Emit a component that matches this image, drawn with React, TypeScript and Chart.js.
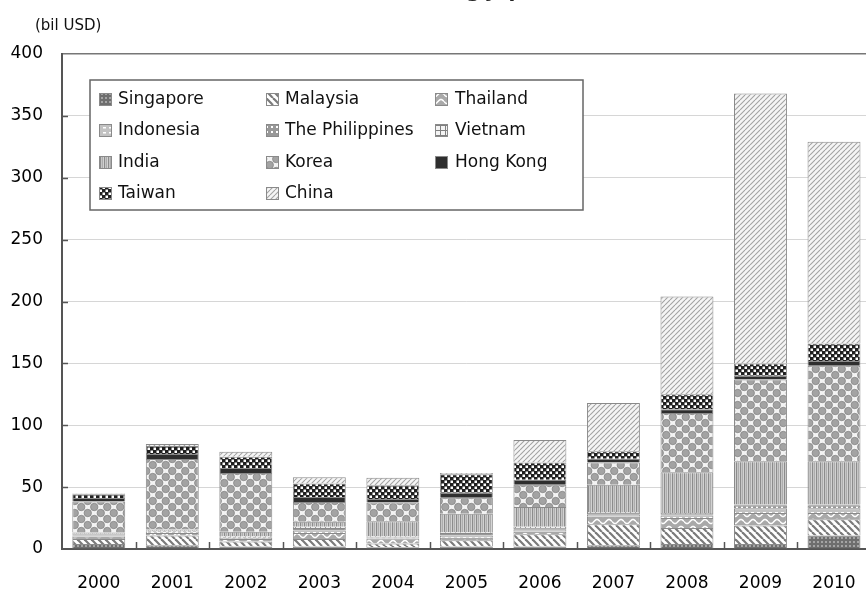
import React, { useEffect, useRef } from "react";
import { Chart, registerables } from "chart.js";

Chart.register(...registerables);

const years = ["2000", "2001", "2002", "2003", "2004", "2005", "2006", "2007", "2008", "2009", "2010"];
const singapore = [4, 3, 2, 2, 1.5, 2, 2, 3, 4, 4, 11];
const malaysia = [4, 8, 4, 6, 3, 5, 10, 17, 13, 15, 13];
const thailand = [2, 2, 2, 5, 4, 2, 2, 6, 8, 10, 5];
const indonesia = [1, 1, 1, 2, 1, 2, 2, 2, 2, 4, 4];
const philippines = [1, 0.5, 1, 2, 0.5, 2, 1, 1, 1, 2, 2];
const vietnam = [0.3, 0.3, 0.5, 1, 0.5, 0.5, 1, 1, 1, 1, 1];
const india = [1, 1, 3.5, 4, 12, 15, 16, 22, 33, 35, 35];
const korea = [25, 57, 47.5, 16, 15, 13, 18, 18, 48, 66, 77];
const hongKong = [3, 4, 4, 4, 3, 4, 4, 3, 3, 3, 4];
const taiwan = [3, 6.5, 9, 11, 11, 15, 14, 6, 12, 10, 14];
const china = [0.5, 1.5, 4, 5, 6, 1, 18, 39, 79, 218, 163];

const seriesNames = ["Singapore", "Malaysia", "Thailand", "Indonesia", "The Philippines", "Vietnam", "India", "Korea", "Hong Kong", "Taiwan", "China"];
const seriesValues = [singapore, malaysia, thailand, indonesia, philippines, vietnam, india, korea, hongKong, taiwan, china];
const yMin = 0;
const yMax = 400;
const yStep = 50;
const unitLabel = "(bil USD)";
const titleText = "(excluding Japan)";

const FONT = "DejaVu Sans";

function tile(w: number, h: number, draw: (c: CanvasRenderingContext2D) => void): CanvasPattern | string {
  const cv = document.createElement("canvas");
  cv.width = w;
  cv.height = h;
  const c = cv.getContext("2d");
  if (!c) return "#999";
  draw(c);
  return c.createPattern(cv, "repeat") || "#999";
}

function makePatterns(): (CanvasPattern | string)[] {
  const sing = tile(4, 4, (c) => {
    c.fillStyle = "#6e6e6e"; c.fillRect(0, 0, 4, 4);
    c.fillStyle = "#a4a4a4"; c.fillRect(1, 1, 2, 2);
  });
  const mala = tile(7, 7, (c) => {
    c.fillStyle = "#ffffff"; c.fillRect(0, 0, 7, 7);
    c.strokeStyle = "#7a7a7a"; c.lineWidth = 2.2;
    for (const o of [-7, 0, 7]) { c.beginPath(); c.moveTo(o, 0); c.lineTo(o + 7, 7); c.stroke(); }
  });
  const thai = tile(12, 7, (c) => {
    c.fillStyle = "#a9a9a9"; c.fillRect(0, 0, 12, 7);
    c.strokeStyle = "#ffffff"; c.lineWidth = 1.6;
    c.beginPath();
    for (let x = 0; x <= 12; x += 0.5) {
      const y = 3.5 + 2 * Math.sin((2 * Math.PI * x) / 12);
      if (x === 0) c.moveTo(x, y); else c.lineTo(x, y);
    }
    c.stroke();
  });
  const indo = tile(6, 5, (c) => {
    c.fillStyle = "#c2c2c2"; c.fillRect(0, 0, 6, 5);
    c.fillStyle = "#ffffff"; c.fillRect(1, 2, 3, 1.5);
  });
  const phil = tile(5, 5, (c) => {
    c.fillStyle = "#989898"; c.fillRect(0, 0, 5, 5);
    c.fillStyle = "#ffffff"; c.fillRect(1, 1, 2, 2);
  });
  const viet = tile(5, 5, (c) => {
    c.fillStyle = "#f4f4f4"; c.fillRect(0, 0, 5, 5);
    c.fillStyle = "#808080"; c.fillRect(0, 0, 5, 1); c.fillRect(0, 0, 1, 5);
  });
  const indi = tile(4, 1, (c) => {
    const cols = ["#8c8c8c", "#c6c6c6", "#adadad", "#d2d2d2"];
    cols.forEach((col, i) => { c.fillStyle = col; c.fillRect(i, 0, 1, 1); });
  });
  const kore = tile(13, 12, (c) => {
    c.fillStyle = "#f3f3f3"; c.fillRect(0, 0, 13, 12);
    const centers = [[3.25, 3], [9.75, 9]];
    for (const [cx, cy] of centers) {
      for (const dx of [-13, 0, 13]) for (const dy of [-12, 0, 12]) {
        c.beginPath();
        c.arc(cx + dx, cy + dy, 3.7, 0, Math.PI * 2);
        c.fillStyle = "#a3a3a3"; c.fill();
        c.strokeStyle = "#878787"; c.lineWidth = 0.8; c.stroke();
      }
    }
  });
  const hong = "#2e2e2e";
  const taiw = tile(6, 6, (c) => {
    c.fillStyle = "#1f1f1f"; c.fillRect(0, 0, 6, 6);
    c.fillStyle = "#ffffff"; c.fillRect(0.5, 0.5, 2.5, 2.5); c.fillRect(3.5, 3.5, 2.5, 2.5);
  });
  const chin = tile(5, 5, (c) => {
    c.fillStyle = "#f5f5f5"; c.fillRect(0, 0, 5, 5);
    c.strokeStyle = "#a2a2a2"; c.lineWidth = 1.1;
    for (const o of [-5, 0, 5]) { c.beginPath(); c.moveTo(o, 5); c.lineTo(o + 5, 0); c.stroke(); }
  });
  return [sing, mala, thai, indo, phil, viet, indi, kore, hong, taiw, chin];
}

export default function App() {
  const canvasRef = useRef<HTMLCanvasElement | null>(null);

  useEffect(() => {
    const canvas = canvasRef.current;
    if (!canvas) return;
    const patterns = makePatterns();

    const ticksPlugin = {
      id: "innerTicks",
      afterDatasetsDraw(chart: any) {
        const { ctx, chartArea } = chart;
        const y = chart.scales.y;
        ctx.save();
        ctx.strokeStyle = "#555";
        ctx.lineWidth = 1.5;
        const n = years.length;
        const w = (chartArea.right - chartArea.left) / n;
        for (let i = 1; i < n; i++) {
          const px = Math.round(chartArea.left + i * w) + 0.5;
          ctx.beginPath();
          ctx.moveTo(px, chartArea.bottom);
          ctx.lineTo(px, chartArea.bottom - 7);
          ctx.stroke();
        }
        for (let v = yMin + yStep; v < yMax; v += yStep) {
          const py = Math.round(y.getPixelForValue(v)) + 0.5;
          ctx.beginPath();
          ctx.moveTo(chartArea.left, py);
          ctx.lineTo(chartArea.left + 6, py);
          ctx.stroke();
        }
        ctx.restore();
      },
    };

    const legendPlugin = {
      id: "boxLegend",
      afterDraw(chart: any) {
        const ctx = chart.ctx as CanvasRenderingContext2D;
        ctx.save();
        const bx = 90, by = 80, bw = 493, bh = 130;
        ctx.fillStyle = "#ffffff";
        ctx.fillRect(bx, by, bw, bh);
        ctx.strokeStyle = "#666";
        ctx.lineWidth = 1.5;
        ctx.strokeRect(bx, by, bw, bh);
        const colSw = [99, 266, 435];
        const colTx = [118, 285, 455];
        const rows = [99, 130, 162, 193];
        ctx.font = `17px "${FONT}"`;
        ctx.textBaseline = "middle";
        ctx.textAlign = "left";
        seriesNames.forEach((name, i) => {
          const r = Math.floor(i / 3);
          const c = i % 3;
          const cy = rows[r];
          ctx.fillStyle = patterns[i] as any;
          ctx.fillRect(colSw[c], cy - 6, 13, 13);
          ctx.strokeStyle = "#8a8a8a";
          ctx.lineWidth = 1;
          ctx.strokeRect(colSw[c] + 0.5, cy - 5.5, 12, 12);
          ctx.fillStyle = "#111";
          ctx.fillText(name, colTx[c], cy + 1);
        });
        ctx.restore();
      },
    };

    const chart = new Chart(canvas, {
      type: "bar",
      data: {
        labels: years,
        datasets: seriesNames.map((name, i) => ({
          label: name,
          data: seriesValues[i],
          backgroundColor: patterns[i] as any,
          borderColor: "#8a8a8a",
          borderWidth: 1,
          barPercentage: 0.72,
          categoryPercentage: 1,
        })),
      },
      options: {
        responsive: false,
        animation: false,
        devicePixelRatio: 1,
        layout: { padding: { top: 54, right: 8, left: 0, bottom: 0 } },
        plugins: {
          legend: { display: false },
          tooltip: { enabled: false },
          title: { display: false },
        },
        scales: {
          x: {
            stacked: true,
            grid: { display: false, drawTicks: false },
            border: { display: true, color: "#555", width: 2 },
            ticks: {
              padding: 24,
              color: "#000",
              font: { family: FONT, size: 17 },
              maxRotation: 0,
            },
            afterFit(scale: any) { scale.height = 41; },
          },
          y: {
            stacked: true,
            min: yMin,
            max: yMax,
            grid: {
              drawTicks: false,
              color: (c: any) => (c.tick && c.tick.value === yMax ? "#777" : c.tick && c.tick.value === yMin ? "rgba(0,0,0,0)" : "#d6d6d6"),
              lineWidth: (c: any) => (c.tick && c.tick.value === yMax ? 1.5 : 1),
            },
            border: { display: true, color: "#555", width: 2 },
            ticks: {
              stepSize: yStep,
              padding: 19,
              color: "#000",
              font: { family: FONT, size: 17 },
            },
            afterFit(scale: any) { scale.width = 62; },
          },
        },
      },
      plugins: [ticksPlugin, legendPlugin],
    });

    return () => {
      chart.destroy();
    };
  }, []);

  return (
    <div
      style={{
        position: "absolute",
        left: 0,
        top: 0,
        width: 866,
        height: 590,
        overflow: "hidden",
        background: "#ffffff",
      }}
    >
      <canvas ref={canvasRef} width={880} height={590} style={{ display: "block", position: "absolute", left: 0, top: 0 }} />
      <div
        style={{
          position: "absolute",
          left: 0,
          width: 922,
          top: -20,
          textAlign: "center",
          fontFamily: FONT,
          fontWeight: "bold",
          fontSize: 20,
          lineHeight: "20px",
          color: "#222",
          whiteSpace: "nowrap",
        }}
      >
        {titleText}
      </div>
      <div
        style={{
          position: "absolute",
          left: 35,
          top: 18,
          fontFamily: FONT,
          fontSize: 15,
          lineHeight: "15px",
          color: "#111",
          whiteSpace: "nowrap",
        }}
      >
        {unitLabel}
      </div>
    </div>
  );
}
